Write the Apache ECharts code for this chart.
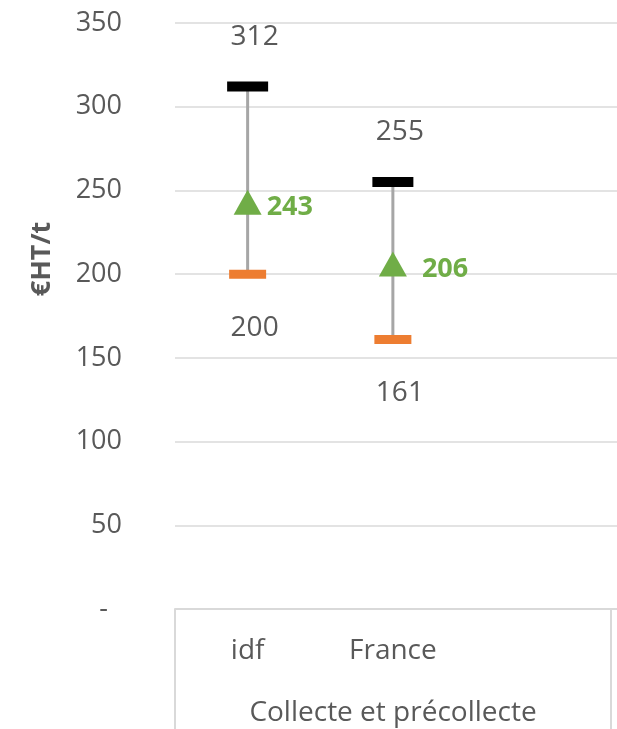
<!DOCTYPE html>
<html>
<head>
<meta charset="utf-8">
<script src="https://cdn.jsdelivr.net/npm/echarts@6/dist/echarts.min.js"></script>
<style>
html,body{margin:0;padding:0;background:#fff;}
#chart{width:617px;height:729px;}
</style>
</head>
<body>
<div id="chart"></div>
<script>
// ---- data ----
const categories = ['idf', 'France', '', ''];
const maxValues = [312, 255];
const minValues = [200, 161];
const meanValues = [243, 206];
const groupLabel = 'Collecte et précollecte';
const yAxisTitle = '€HT/t';

// ---- styles ----
const FONT = '"Open Sans", "Noto Sans", sans-serif';
const TXT = '#595959';
const meanLabelDist = [5, 15];

const chart = echarts.init(document.getElementById('chart'), null, {renderer: 'canvas'});

const lineData = maxValues.map((v, i) => [i, minValues[i], v]);

const option = {
  backgroundColor: '#fff',
  animation: false,
  grid: {left: 175, top: 23, bottom: 120, width: 581, containLabel: false, outerBoundsMode: 'none'},
  xAxis: {
    type: 'category',
    data: categories,
    boundaryGap: true,
    axisLine: {show: true, lineStyle: {color: '#D9D9D9', width: 2}},
    axisTick: {
      show: true, length: 125, inside: false,
      interval: function (index) { return index === 0 || index === 3; },
      lineStyle: {color: '#D9D9D9', width: 2}
    },
    axisLabel: {color: TXT, fontFamily: FONT, fontSize: 28, margin: 28, interval: 0},
    splitLine: {show: false}
  },
  yAxis: {
    type: 'value',
    min: 0, max: 350, interval: 50,
    axisLine: {show: false},
    axisTick: {show: false},
    axisLabel: {
      color: TXT, fontFamily: FONT, fontSize: 27, margin: 53,
      formatter: function (v) { return v === 0 ? '-  ' : String(v); }
    },
    splitLine: {show: true, lineStyle: {color: '#E3E3E3', width: 2}}
  },
  graphic: [
    {
      type: 'text',
      x: 42, y: 259, rotation: Math.PI / 2,
      style: {
        text: yAxisTitle, fill: TXT, font: 'bold 27px ' + FONT,
        align: 'center', verticalAlign: 'middle'
      }
    },
    {
      type: 'text',
      x: 393, y: 713,
      style: {
        text: groupLabel, fill: TXT, font: '28px ' + FONT,
        align: 'center', verticalAlign: 'middle'
      }
    }
  ],
  series: [
    {
      type: 'custom',
      data: lineData,
      encode: {x: 0, y: [1, 2]},
      renderItem: function (params, api) {
        const p1 = api.coord([api.value(0), api.value(1)]);
        const p2 = api.coord([api.value(0), api.value(2)]);
        return {
          type: 'line',
          shape: {x1: p1[0], y1: p1[1], x2: p2[0], y2: p2[1]},
          style: {stroke: '#A6A6A6', lineWidth: 3}
        };
      },
      z: 1
    },
    {
      type: 'scatter',
      data: maxValues.map((v, i) => [i, v]),
      symbol: 'rect', symbolSize: [41, 10],
      itemStyle: {color: '#000000', opacity: 1},
      label: {
        show: true, position: 'inside', offset: [7, -50],
        formatter: p => p.value[1],
        color: TXT, fontFamily: FONT, fontSize: 28
      },
      z: 2
    },
    {
      type: 'scatter',
      data: minValues.map((v, i) => [i, v]),
      symbol: 'rect', symbolSize: [37, 9],
      itemStyle: {color: '#ED7D31', opacity: 1},
      label: {
        show: true, position: 'inside', offset: [7, 54],
        formatter: p => p.value[1],
        color: TXT, fontFamily: FONT, fontSize: 28
      },
      z: 2
    },
    {
      type: 'scatter',
      data: meanValues.map((v, i) => ({
        value: [i, v],
        label: {distance: meanLabelDist[i]}
      })),
      symbol: 'triangle', symbolSize: [28, 25],
      itemStyle: {color: '#70AD47', opacity: 1},
      label: {
        show: true, position: 'right', offset: [0, 5],
        formatter: p => p.value[1],
        color: '#70AD47', fontFamily: FONT, fontSize: 27, fontWeight: 'bold'
      },
      z: 3
    }
  ]
};
chart.setOption(option);
</script>
</body>
</html>
